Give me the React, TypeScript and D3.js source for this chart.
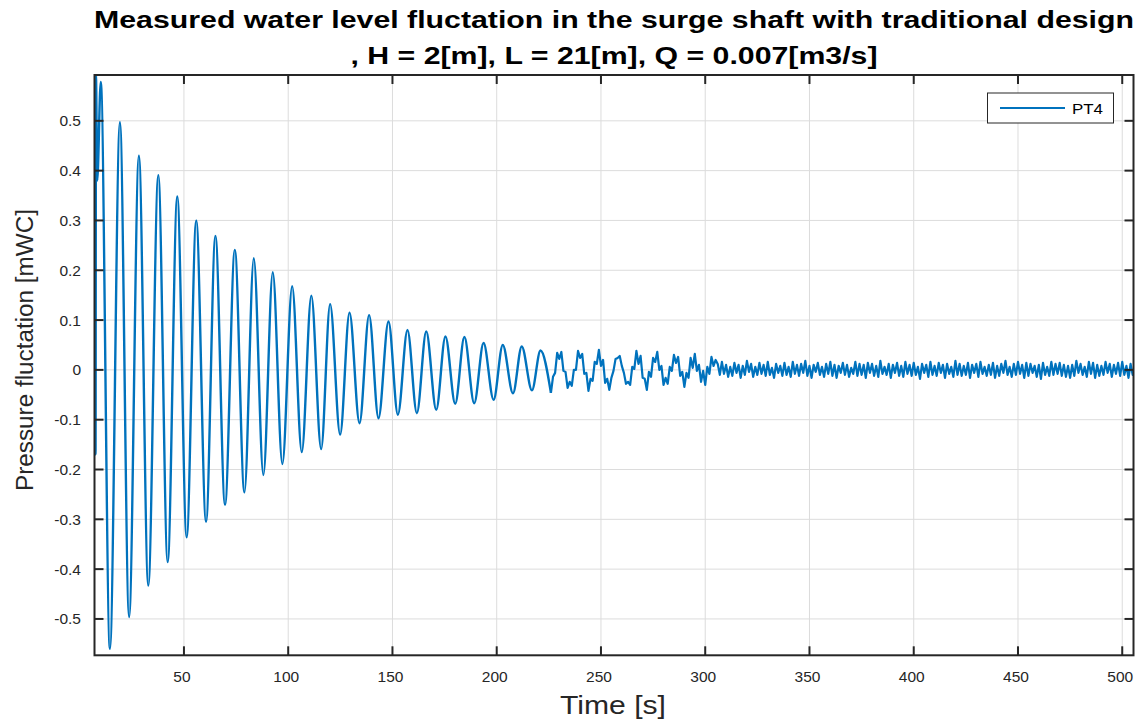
import React from 'react';
import * as d3 from 'd3';

// peaks and troughs of the decaying swing (t in s, value in mWC)
const swingTime = [
  7.1, 7.6, 7.8, 8.4, 10.1,
  14.5, 19.3, 23.7, 28.4, 32.9, 37.7, 42.2, 46.8, 51.3, 55.9,
  60.6, 65.1, 69.7, 74.4, 79.0, 83.5, 88.1, 92.6, 97.2, 101.9,
  106.5, 111.1, 115.8, 120.1, 124.9, 129.4, 134.2, 138.8, 143.3, 148.1,
  152.6, 157.2, 161.7, 166.2, 171.0, 175.4, 180.1, 184.5, 189.2, 193.7,
  198.5, 202.9, 207.8, 212.0, 216.9, 221.0,
];
const swingValue = [
  -0.06, -0.17, 0.59, 0.38, 0.578,
  -0.56, 0.497, -0.496, 0.43, -0.433, 0.391, -0.386, 0.348, -0.336, 0.3,
  -0.305, 0.269, -0.271, 0.241, -0.246, 0.224, -0.211, 0.196, -0.189, 0.168,
  -0.165, 0.149, -0.159, 0.132, -0.13, 0.115, -0.107, 0.11, -0.097, 0.097,
  -0.09, 0.08, -0.087, 0.077, -0.08, 0.067, -0.068, 0.066, -0.067, 0.054,
  -0.06, 0.05, -0.047, 0.047, -0.041, 0.039,
];

// after ~226 s the trace is a noisy band, read every second
const rippleStart = 226;
const rippleStep = 1;
const rippleValue = [
  -0.046, -0.014, -0.006, 0.034, 0.022, 0.036, -0.002, -0.004, -0.036, -0.024,
  -0.032, 0.000, 0.000, 0.038, 0.024, 0.032, -0.008, -0.006, -0.042, -0.018,
  -0.022, 0.016, 0.012, 0.040, 0.008, 0.020, -0.026, -0.018, -0.040, -0.016,
  -0.002, 0.022, 0.024, 0.028, 0.008, -0.006, -0.028, -0.024, -0.030, 0.006,
  0.002, 0.038, 0.012, 0.028, -0.016, -0.018, -0.040, -0.004, -0.014, 0.024,
  0.016, 0.036, 0.000, 0.008, -0.030, -0.016, -0.028, 0.006, -0.002, 0.030,
  0.014, 0.026, -0.012, -0.004, -0.034, -0.006, -0.016, 0.024, 0.004, 0.032,
  -0.002, 0.010, -0.024, -0.002, -0.030, 0.006, -0.008, 0.026, 0.008, 0.020,
  0.012, -0.010, 0.016, -0.008, 0.010, -0.014, 0.006, -0.012, 0.014, -0.006,
  0.010, -0.016, 0.008, -0.010, 0.018, -0.004, 0.012, -0.014, 0.006, -0.010,
  0.014, -0.008, 0.010, -0.012, 0.016, -0.010, 0.004, -0.016, 0.012, -0.006,
  0.008, -0.012, 0.014, -0.010, 0.006, -0.014, 0.016, -0.008, 0.010, -0.012,
  0.012, -0.006, 0.018, -0.012, 0.008, -0.016, 0.010, -0.004, 0.014, -0.010,
  0.006, -0.014, 0.012, -0.008, 0.016, -0.012, 0.010, -0.016, 0.008, -0.006,
  0.014, -0.010, 0.010, -0.014, 0.004, -0.008, 0.016, -0.012, 0.012, -0.010,
  0.010, -0.016, 0.014, -0.006, 0.012, -0.012, 0.008, -0.014, 0.018, -0.008,
  0.006, -0.010, 0.012, -0.016, 0.010, -0.006, 0.014, -0.012, 0.008, -0.014,
  0.016, -0.008, 0.010, -0.012, 0.014, -0.010, 0.006, -0.018, 0.012, -0.006,
  0.010, -0.014, 0.016, -0.010, 0.008, -0.012, 0.014, -0.006, 0.010, -0.016,
  0.012, -0.008, 0.006, -0.014, 0.018, -0.010, 0.012, -0.012, 0.008, -0.010,
  0.014, -0.016, 0.010, -0.006, 0.012, -0.014, 0.016, -0.008, 0.006, -0.012,
  0.010, -0.010, 0.014, -0.016, 0.008, -0.012, 0.012, -0.006, 0.018, -0.010,
  0.006, -0.014, 0.012, -0.010, 0.016, -0.008, 0.010, -0.016, 0.014, -0.012,
  0.012, -0.006, 0.008, -0.014, 0.010, -0.018, 0.014, -0.010, 0.006, -0.012,
  0.016, -0.010, 0.012, -0.008, 0.014, -0.012, 0.010, -0.014, 0.008, -0.016,
  0.010, -0.012, 0.018, -0.006, 0.012, -0.010, 0.006, -0.014, 0.016, -0.008,
  0.014, -0.016, 0.010, -0.012, 0.008, -0.010, 0.016, -0.006, 0.012, -0.014,
  0.010, -0.008, 0.014, -0.012, 0.016, -0.010, 0.008, -0.016, 0.012, -0.010,
  0.006,
];

const xTicks = [50, 100, 150, 200, 250, 300, 350, 400, 450, 500];
const yTicks = [-0.5, -0.4, -0.3, -0.2, -0.1, 0, 0.1, 0.2, 0.3, 0.4, 0.5];
const seriesName = 'PT4';
const titleLines = [
  'Measured water level fluctation in the surge shaft with traditional design',
  ', H = 2[m], L = 21[m], Q = 0.007[m3/s]',
];
const xLabel = 'Time [s]';
const yLabel = 'Pressure fluctation [mWC]';

const W = 1143;
const H = 722;
const box = { left: 94.5, right: 1133.5, top: 75, bottom: 655.3 };
const font = '"Liberation Sans", Arial, Helvetica, sans-serif';
const ink = '#262626';
const blue = '#0072BD';
const tickLen = 9;

type Pt = [number, number];

const App = () => {
  const x = d3.scaleLinear().domain([7.1, 505.4]).range([box.left, box.right]);
  const y = d3.scaleLinear().domain([-0.573, 0.592]).range([box.bottom, box.top]);

  const swingPts: Pt[] = swingTime.map((t, i) => [t, swingValue[i]] as Pt);
  const ripplePts: Pt[] = rippleValue.map((v, i) => [rippleStart + i * rippleStep, v] as Pt);

  const smooth = d3.line<Pt>().x(d => x(d[0])).y(d => y(d[1])).curve(d3.curveMonotoneX);
  const jagged = d3.line<Pt>().x(d => x(d[0])).y(d => y(d[1]));

  return (
    <svg width={W} height={H} style={{ position: 'absolute', left: 0, top: 0, background: '#fff' }}
      fontFamily={font}>
      <defs>
        <clipPath id="plot">
          <rect x={box.left} y={box.top} width={box.right - box.left} height={box.bottom - box.top} />
        </clipPath>
      </defs>

      {/* title */}
      <text x={614} y={28} textAnchor="middle" fontSize={24} fontWeight="bold" fill="#000"
        textLength={1040} lengthAdjust="spacingAndGlyphs">{titleLines[0]}</text>
      <text x={614} y={64} textAnchor="middle" fontSize={24} fontWeight="bold" fill="#000"
        textLength={527} lengthAdjust="spacingAndGlyphs">{titleLines[1]}</text>

      {/* grid */}
      <g stroke="#dcdcdc" strokeWidth={1}>
        {xTicks.map(t => (
          <line key={'gx' + t} x1={x(t)} x2={x(t)} y1={box.top} y2={box.bottom} />
        ))}
        {yTicks.map(t => (
          <line key={'gy' + t} x1={box.left} x2={box.right} y1={y(t)} y2={y(t)} />
        ))}
      </g>

      {/* data */}
      <g clipPath="url(#plot)" fill="none" stroke={blue} strokeLinejoin="round">
        <path d={smooth(swingPts.concat([ripplePts[0]])) || ''} strokeWidth={2.4} />
        <path d={jagged(ripplePts) || ''} strokeWidth={2.2} />
      </g>

      {/* axes box and ticks */}
      <g stroke={ink} strokeWidth={2}>
        <rect x={box.left} y={box.top} width={box.right - box.left} height={box.bottom - box.top} fill="none" />
        {xTicks.map(t => (
          <g key={'tx' + t}>
            <line x1={x(t)} x2={x(t)} y1={box.bottom} y2={box.bottom - tickLen} />
            <line x1={x(t)} x2={x(t)} y1={box.top} y2={box.top + tickLen} />
          </g>
        ))}
        {yTicks.map(t => (
          <g key={'ty' + t}>
            <line x1={box.left} x2={box.left + tickLen} y1={y(t)} y2={y(t)} />
            <line x1={box.right} x2={box.right - tickLen} y1={y(t)} y2={y(t)} />
          </g>
        ))}
      </g>

      {/* tick labels */}
      <g fill={ink} fontSize={15.5}>
        {xTicks.map(t => (
          <text key={'lx' + t} x={x(t) - 2} y={682} textAnchor="middle">{t}</text>
        ))}
        {yTicks.map(t => (
          <text key={'ly' + t} x={81} y={y(t)} textAnchor="end" dominantBaseline="central">{String(t)}</text>
        ))}
      </g>

      {/* axis labels */}
      <text x={613} y={714} textAnchor="middle" fontSize={25} fill={ink}
        textLength={106} lengthAdjust="spacingAndGlyphs">{xLabel}</text>
      <text transform="translate(33,350) rotate(-90)" textAnchor="middle" fontSize={23} fill={ink}
        textLength={282} lengthAdjust="spacingAndGlyphs">{yLabel}</text>

      {/* legend */}
      <g>
        <rect x={987.5} y={93} width={126} height={30} fill="#fff" stroke={ink} strokeWidth={1} />
        <line x1={1000} x2={1065} y1={108} y2={108} stroke={blue} strokeWidth={2} />
        <text x={1072} y={113.5} fontSize={15} fill="#000" textLength={31} lengthAdjust="spacingAndGlyphs">
          {seriesName}
        </text>
      </g>
    </svg>
  );
};

export default App;
